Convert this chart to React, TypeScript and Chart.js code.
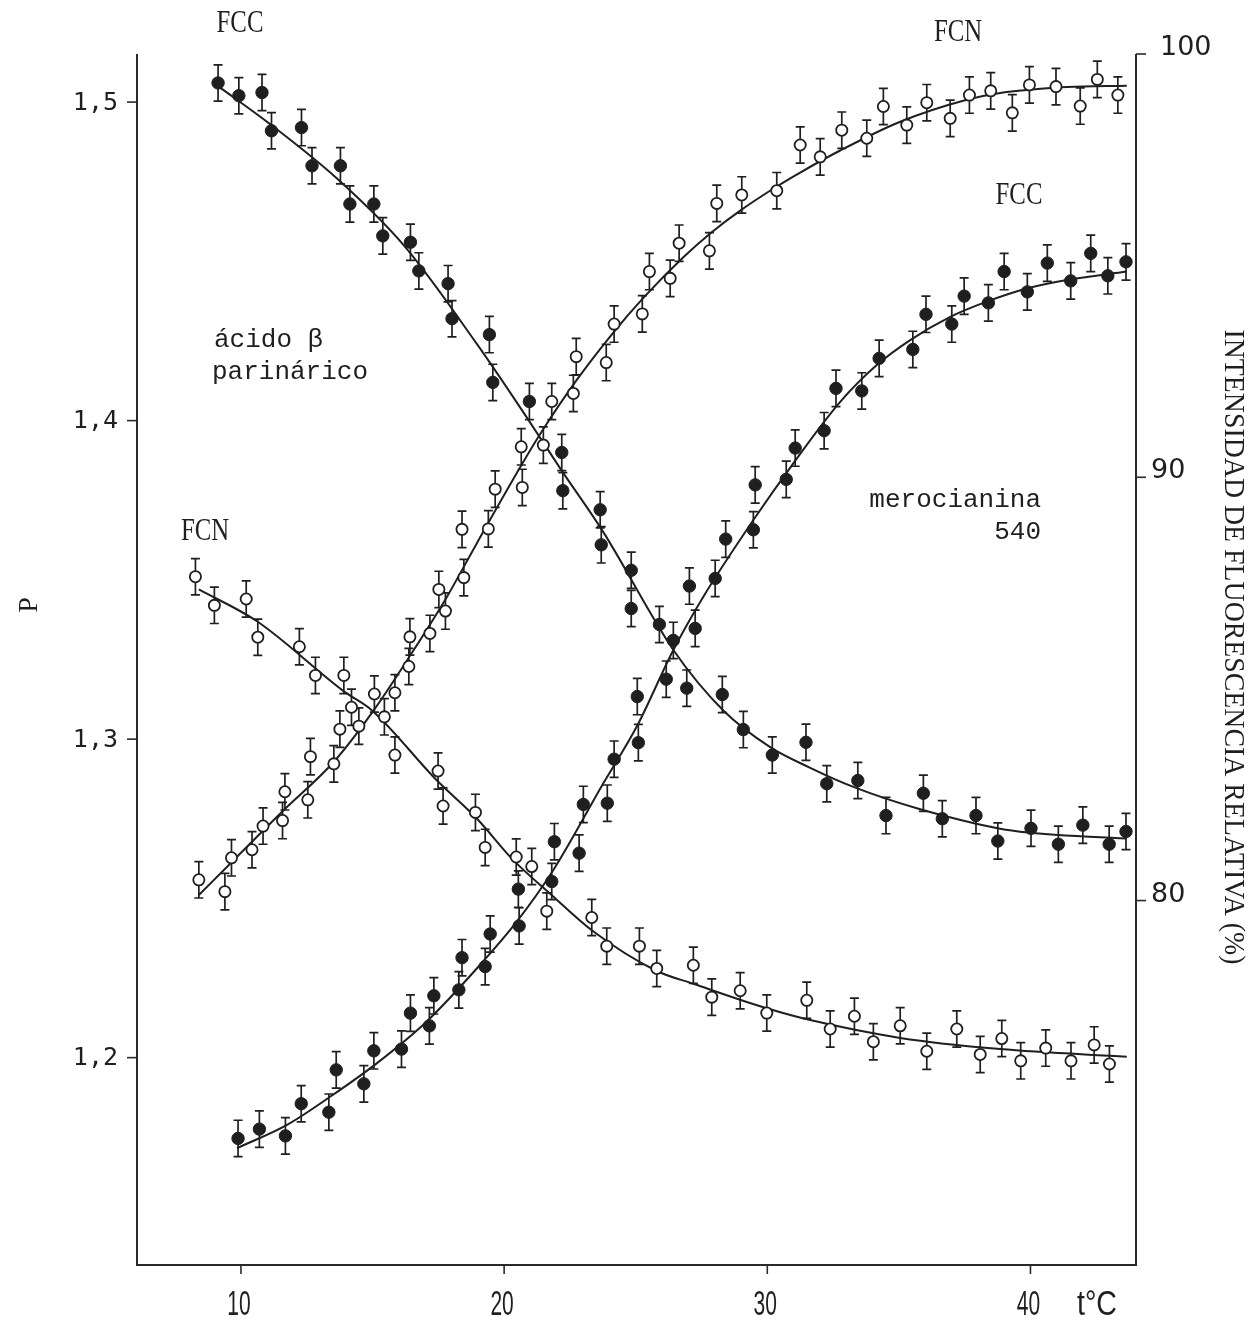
import React, { useEffect, useRef } from "react";
import { Chart, registerables } from "chart.js";
Chart.register(...registerables);

// ---- tick values ----
const xTicks = [10, 20, 30, 40];
const pTicks = [1.2, 1.3, 1.4, 1.5];
const pTickLabels = ["1,2", "1,3", "1,4", "1,5"];
const iTicks = [80, 90, 100];
const iTickLabels = ["80", "90", "100"];

// ---- ácido β parinárico, FCC (filled) — P, left axis ----
const parFCC_t = [9.13, 9.92, 10.8, 11.16, 12.3, 12.7, 13.78, 14.14, 15.05, 15.39, 16.44, 16.76, 17.87, 18.02, 19.44, 19.57, 20.96, 22.19, 22.23, 23.65, 23.69, 24.83, 24.83, 25.9, 26.43, 26.94, 28.29, 29.09, 30.19, 31.47, 32.26, 33.44, 34.51, 35.93, 36.65, 37.93, 38.76, 40.02, 41.06, 41.99, 42.99, 43.63];
const parFCC_P = [1.506, 1.502, 1.503, 1.491, 1.492, 1.48, 1.48, 1.468, 1.468, 1.458, 1.456, 1.447, 1.443, 1.432, 1.427, 1.412, 1.406, 1.39, 1.378, 1.372, 1.361, 1.353, 1.341, 1.336, 1.331, 1.316, 1.314, 1.303, 1.295, 1.299, 1.286, 1.287, 1.276, 1.283, 1.275, 1.276, 1.268, 1.272, 1.267, 1.273, 1.267, 1.271];
const parFCC_fit_t = [9.13, 11.12, 13.65, 16.19, 18.97, 20.86, 22.13, 23.77, 26.43, 28.33, 30.11, 31.63, 33.27, 35.81, 39.35, 43.66];
const parFCC_fit_P = [1.505, 1.493, 1.476, 1.455, 1.424, 1.401, 1.385, 1.365, 1.328, 1.309, 1.2975, 1.291, 1.285, 1.278, 1.2712, 1.2688];

// ---- ácido β parinárico, FCN (open) — P, left axis ----
const parFCN_t = [8.27, 8.99, 10.2, 10.64, 12.22, 12.83, 13.91, 14.2, 15.45, 15.85, 17.49, 17.68, 18.91, 19.28, 20.46, 21.05, 21.62, 23.33, 23.9, 25.14, 25.8, 27.19, 27.89, 28.97, 29.98, 31.5, 32.39, 33.31, 34.03, 35.05, 36.06, 37.2, 38.09, 38.91, 39.63, 40.58, 41.54, 42.42, 43.0];
const parFCN_P = [1.351, 1.342, 1.344, 1.332, 1.329, 1.32, 1.32, 1.31, 1.307, 1.295, 1.29, 1.279, 1.277, 1.266, 1.263, 1.26, 1.246, 1.244, 1.235, 1.235, 1.228, 1.229, 1.219, 1.221, 1.214, 1.218, 1.209, 1.213, 1.205, 1.21, 1.202, 1.209, 1.201, 1.206, 1.199, 1.203, 1.199, 1.204, 1.198];
const parFCN_fit_t = [8.4, 10.61, 13.91, 14.98, 17.45, 18.97, 20.35, 21.81, 23.33, 25.8, 27.19, 29.98, 31.63, 35.05, 38.85, 43.66];
const parFCN_fit_P = [1.347, 1.337, 1.315, 1.309, 1.287, 1.275, 1.262, 1.251, 1.24, 1.2272, 1.2232, 1.2155, 1.2118, 1.2062, 1.2027, 1.2003];

// ---- merocianina 540, FCN (open) — intensidad %, right axis ----
const merFCN_t = [8.4, 9.39, 9.64, 10.42, 10.84, 11.58, 11.67, 12.54, 12.64, 13.53, 13.76, 14.48, 15.07, 15.85, 16.38, 16.42, 17.18, 17.52, 17.77, 18.4, 18.47, 19.4, 19.66, 20.65, 20.69, 21.49, 21.81, 22.63, 22.74, 23.88, 24.18, 25.25, 25.52, 26.31, 26.65, 27.8, 28.08, 29.03, 30.36, 31.25, 32.01, 32.83, 33.78, 34.41, 35.3, 36.06, 36.95, 37.68, 38.49, 39.31, 39.96, 40.97, 41.89, 42.54, 43.32];
const merFCN_I = [80.49, 80.21, 81.01, 81.2, 81.76, 81.89, 82.57, 82.38, 83.4, 83.23, 84.05, 84.12, 84.88, 84.91, 85.53, 86.23, 86.31, 87.35, 86.84, 88.77, 87.63, 88.78, 89.72, 90.72, 89.76, 90.76, 91.79, 91.98, 92.85, 92.71, 93.62, 93.86, 94.86, 94.7, 95.53, 95.35, 96.47, 96.67, 96.77, 97.85, 97.57, 98.2, 98.01, 98.76, 98.32, 98.85, 98.48, 99.03, 99.13, 98.61, 99.27, 99.23, 98.77, 99.4, 99.03];
const merFCN_fit_t = [8.4, 9.73, 11.63, 13.53, 15.05, 16.44, 17.83, 18.97, 20.67, 21.43, 22.76, 24.15, 25.29, 26.81, 27.83, 28.97, 30.36, 31.25, 32.77, 35.05, 37.58, 38.85, 41.38, 43.66];
const merFCN_fit_I = [80.13, 80.96, 82.14, 83.28, 84.5, 85.8, 87.18, 88.45, 90.3, 91.08, 92.3, 93.42, 94.24, 95.2, 95.76, 96.3, 96.87, 97.2, 97.72, 98.4, 98.92, 99.08, 99.22, 99.25];

// ---- merocianina 540, FCC (filled) — intensidad %, right axis ----
const merFCC_t = [9.89, 10.7, 11.69, 12.29, 13.34, 13.62, 14.67, 15.05, 16.1, 16.44, 17.16, 17.33, 18.28, 18.4, 19.28, 19.47, 20.54, 20.57, 21.81, 21.91, 22.85, 23.01, 23.92, 24.18, 25.06, 25.1, 26.16, 27.04, 27.26, 28.02, 28.42, 29.47, 29.54, 30.72, 31.06, 32.16, 32.61, 33.59, 34.25, 35.53, 36.03, 37.01, 37.48, 38.4, 39.0, 39.88, 40.64, 41.53, 42.29, 42.94, 43.63];
const merFCC_I = [74.38, 74.6, 74.44, 75.2, 75.0, 76.0, 75.67, 76.45, 76.49, 77.34, 77.04, 77.75, 77.89, 78.65, 78.44, 79.21, 80.27, 79.4, 80.45, 81.39, 81.12, 82.27, 82.3, 83.34, 84.82, 83.73, 85.23, 87.43, 86.43, 87.61, 88.54, 88.76, 89.82, 89.95, 90.69, 91.1, 92.1, 92.04, 92.81, 93.02, 93.85, 93.62, 94.28, 94.12, 94.86, 94.38, 95.06, 94.64, 95.29, 94.76, 95.09];
const merFCC_fit_t = [9.85, 11.75, 13.4, 15.17, 17.07, 18.97, 20.48, 21.87, 23.77, 25.04, 26.43, 27.57, 29.47, 30.99, 32.77, 34.16, 35.43, 36.95, 38.34, 39.86, 41.38, 43.66];
const merFCC_fit_I = [74.15, 74.7, 75.37, 76.16, 77.15, 78.4, 79.5, 80.72, 82.77, 84.11, 85.92, 87.18, 88.99, 90.33, 91.78, 92.65, 93.24, 93.79, 94.15, 94.46, 94.66, 94.86];

// error bar half-widths
const errP = 0.0057;
const errI = 0.43;

const INK = "#1f1f1f";

const pts = (xs: number[], ys: number[]) => xs.map((x, i) => ({ x, y: ys[i] }));

function drawText(
  ctx: CanvasRenderingContext2D,
  s: string,
  x: number,
  y: number,
  font: string,
  align: CanvasTextAlign,
  sx = 1,
  rot = 0,
  fitWidth = 0
) {
  ctx.save();
  ctx.translate(x, y);
  if (rot) ctx.rotate(rot);
  ctx.font = font;
  let scale = sx;
  if (fitWidth) scale = fitWidth / ctx.measureText(s).width;
  ctx.scale(scale, 1);
  ctx.textAlign = align;
  ctx.textBaseline = "middle";
  ctx.fillStyle = INK;
  ctx.fillText(s, 0, 0);
  ctx.restore();
}

const errorSpecs = [
  { index: 0, err: errP },
  { index: 1, err: errP },
  { index: 2, err: errI },
  { index: 3, err: errI },
];

const decorPlugin = {
  id: "decor",
  beforeDatasetsDraw(chart: any) {
    const ctx: CanvasRenderingContext2D = chart.ctx;
    const xs = chart.scales.x;
    ctx.save();
    ctx.strokeStyle = INK;
    ctx.lineWidth = 1.7;
    errorSpecs.forEach(({ index, err }) => {
      const ds = chart.data.datasets[index];
      const ys = chart.scales[ds.yAxisID];
      ds.data.forEach((p: any) => {
        const px = xs.getPixelForValue(p.x);
        const top = ys.getPixelForValue(p.y + err);
        const bot = ys.getPixelForValue(p.y - err);
        ctx.beginPath();
        ctx.moveTo(px, top);
        ctx.lineTo(px, bot);
        ctx.moveTo(px - 4.5, top);
        ctx.lineTo(px + 4.5, top);
        ctx.moveTo(px - 4.5, bot);
        ctx.lineTo(px + 4.5, bot);
        ctx.stroke();
      });
    });
    ctx.restore();
  },
  afterDraw(chart: any) {
    const ctx: CanvasRenderingContext2D = chart.ctx;
    const { left, right, top, bottom } = chart.chartArea;
    const xs = chart.scales.x;
    const yl = chart.scales.yL;
    const yr = chart.scales.yR;
    ctx.save();
    ctx.strokeStyle = "#2a2a2a";
    ctx.lineWidth = 2;
    ctx.beginPath();
    ctx.moveTo(left, top);
    ctx.lineTo(left, bottom);
    ctx.lineTo(right, bottom);
    ctx.lineTo(right, top);
    ctx.stroke();

    ctx.lineWidth = 1.6;
    // left ticks
    pTicks.forEach((v, i) => {
      const y = yl.getPixelForValue(v);
      ctx.beginPath();
      ctx.moveTo(left - 10, y);
      ctx.lineTo(left, y);
      ctx.stroke();
      drawText(ctx, pTickLabels[i], left - 19, y + 1, "25px 'DejaVu Sans Mono', monospace", "right");
    });
    // bottom ticks
    xTicks.forEach((v) => {
      const x = xs.getPixelForValue(v);
      ctx.beginPath();
      ctx.moveTo(x, bottom);
      ctx.lineTo(x, bottom + 9);
      ctx.stroke();
      drawText(ctx, String(v), x - 2, bottom + 40, "35px 'Liberation Sans', sans-serif", "center", 0.6);
    });
    drawText(ctx, "t°C", 1097, bottom + 40, "35px 'Liberation Sans', sans-serif", "center", 0, 0, 40);
    // right ticks
    iTicks.forEach((v, i) => {
      const y = yr.getPixelForValue(v);
      ctx.beginPath();
      ctx.moveTo(right, y);
      ctx.lineTo(right + 10, y);
      ctx.stroke();
      const lx = v === 100 ? right + 24 : right + 15;
      drawText(ctx, iTickLabels[i], lx, y - 6, "27px 'DejaVu Sans', sans-serif", "left");
    });

    // axis titles
    drawText(ctx, "P", 30, 605, "28px 'Liberation Serif', serif", "center", 1, -Math.PI / 2);
    drawText(
      ctx,
      "INTENSIDAD DE FLUORESCENCIA RELATIVA (%)",
      1233,
      647,
      "30px 'Liberation Serif', serif",
      "center",
      1,
      Math.PI / 2,
      635
    );

    // annotations
    const serif = "31px 'Liberation Serif', serif";
    drawText(ctx, "FCC", 240, 24, serif, "center", 0.8);
    drawText(ctx, "FCN", 958, 33, serif, "center", 0.8);
    drawText(ctx, "FCC", 1019, 196, serif, "center", 0.8);
    drawText(ctx, "FCN", 205, 532, serif, "center", 0.8);
    const mono = "26px 'Liberation Mono', 'Courier New', monospace";
    drawText(ctx, "ácido β", 214, 340, mono, "left");
    drawText(ctx, "parinárico", 212, 372, mono, "left");
    drawText(ctx, "merocianina", 1041, 500, mono, "right");
    drawText(ctx, "540", 1041, 532, mono, "right");
    ctx.restore();
  },
};

export default function App() {
  const ref = useRef<HTMLCanvasElement | null>(null);

  useEffect(() => {
    if (!ref.current) return;
    const filled = {
      pointRadius: 6.2,
      pointBackgroundColor: INK,
      pointBorderColor: INK,
      pointBorderWidth: 1,
      showLine: false,
    };
    const open = {
      pointRadius: 5.6,
      pointBackgroundColor: "#ffffff",
      pointBorderColor: INK,
      pointBorderWidth: 1.8,
      showLine: false,
    };
    const curve = {
      type: "line" as const,
      pointRadius: 0,
      borderColor: INK,
      borderWidth: 2,
      fill: false,
      cubicInterpolationMode: "monotone" as const,
    };
    const chart = new Chart(ref.current, {
      type: "scatter",
      data: {
        datasets: [
          { label: "FCC parinárico", data: pts(parFCC_t, parFCC_P), yAxisID: "yL", ...filled },
          { label: "FCN parinárico", data: pts(parFCN_t, parFCN_P), yAxisID: "yL", ...open },
          { label: "FCN merocianina", data: pts(merFCN_t, merFCN_I), yAxisID: "yR", ...open },
          { label: "FCC merocianina", data: pts(merFCC_t, merFCC_I), yAxisID: "yR", ...filled },
          { label: "ajuste FCC parinárico", data: pts(parFCC_fit_t, parFCC_fit_P), yAxisID: "yL", ...curve },
          { label: "ajuste FCN parinárico", data: pts(parFCN_fit_t, parFCN_fit_P), yAxisID: "yL", ...curve },
          { label: "ajuste FCN merocianina", data: pts(merFCN_fit_t, merFCN_fit_I), yAxisID: "yR", ...curve },
          { label: "ajuste FCC merocianina", data: pts(merFCC_fit_t, merFCC_fit_I), yAxisID: "yR", ...curve },
        ] as any,
      },
      options: {
        responsive: false,
        maintainAspectRatio: false,
        animation: false,
        devicePixelRatio: 1,
        events: [],
        layout: { padding: { left: 137, top: 54, right: 113, bottom: 57 } },
        plugins: { legend: { display: false }, tooltip: { enabled: false }, title: { display: false } },
        scales: {
          x: { type: "linear", min: 6.05, max: 44.01, display: false },
          yL: { type: "linear", position: "left", min: 1.1349, max: 1.5151, display: false },
          yR: { type: "linear", position: "right", min: 71.39, max: 100, display: false },
        },
      },
      plugins: [decorPlugin],
    });
    return () => chart.destroy();
  }, []);

  return (
    <div style={{ position: "absolute", left: 0, top: 0, width: 1249, height: 1322, background: "#fff" }}>
      <canvas ref={ref} width={1249} height={1322} style={{ display: "block", width: 1249, height: 1322 }} />
    </div>
  );
}
